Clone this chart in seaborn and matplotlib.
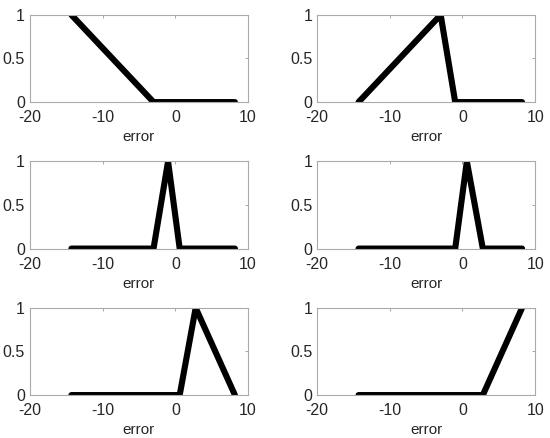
import numpy as np
import pandas as pd
import matplotlib
matplotlib.use("Agg")
import matplotlib.pyplot as plt
import seaborn as sns
from matplotlib.ticker import FormatStrFormatter

# membership function breakpoints (error axis)
pts_1 = [-14.3, -3.0, 8.2]
mu_1 = [1, 0, 0]
pts_2 = [-14.3, -3.0, -1.0, 8.2]
mu_2 = [0, 1, 0, 0]
pts_3 = [-14.3, -3.0, -1.0, 0.6, 8.2]
mu_3 = [0, 0, 1, 0, 0]
pts_4 = [-14.3, -1.0, 0.6, 2.8, 8.2]
mu_4 = [0, 0, 1, 0, 0]
pts_5 = [-14.3, 0.6, 2.8, 8.2]
mu_5 = [0, 0, 1, 0]
pts_6 = [-14.3, 2.8, 8.2]
mu_6 = [0, 0, 1]

x_ticks = [-20, -10, 0, 10]
y_ticks = [0, 0.5, 1]

sns.set_style("white")
plt.rcParams["font.family"] = ["Liberation Sans", "DejaVu Sans"]
plt.rcParams["axes.unicode_minus"] = False

fig, axes = plt.subplots(3, 2, figsize=(5.5, 4.38), dpi=100)
fig.subplots_adjust(left=0.0545, right=0.973, top=0.966, bottom=0.098,
                    wspace=0.317, hspace=0.68)

curvas = [(pts_1, mu_1), (pts_2, mu_2), (pts_3, mu_3),
          (pts_4, mu_4), (pts_5, mu_5), (pts_6, mu_6)]

for ax, (xs, ys) in zip(axes.flat, curvas):
    df = pd.DataFrame({"error": xs, "mu": ys})
    sns.lineplot(data=df, x="error", y="mu", ax=ax, color="black",
                 linewidth=4.4, sort=False, estimator=None)
    ax.set_xlim(-20, 10)
    ax.set_ylim(0, 1)
    ax.set_xticks(x_ticks)
    ax.set_yticks(y_ticks)
    ax.yaxis.set_major_formatter(FormatStrFormatter("%g"))
    ax.set_xlabel("error", fontsize=11, labelpad=3.5)
    ax.set_ylabel("")
    ax.tick_params(direction="in", length=2.5, width=0.6, color="#999999",
                   labelsize=11.5, top=True, right=True)
    ax.tick_params(axis="x", pad=6)
    ax.tick_params(axis="y", pad=3.5)
    for s in ax.spines.values():
        s.set_color("#aaaaaa")
        s.set_linewidth(0.8)
        s.set_visible(True)

fig.savefig("out.png", dpi=100)
